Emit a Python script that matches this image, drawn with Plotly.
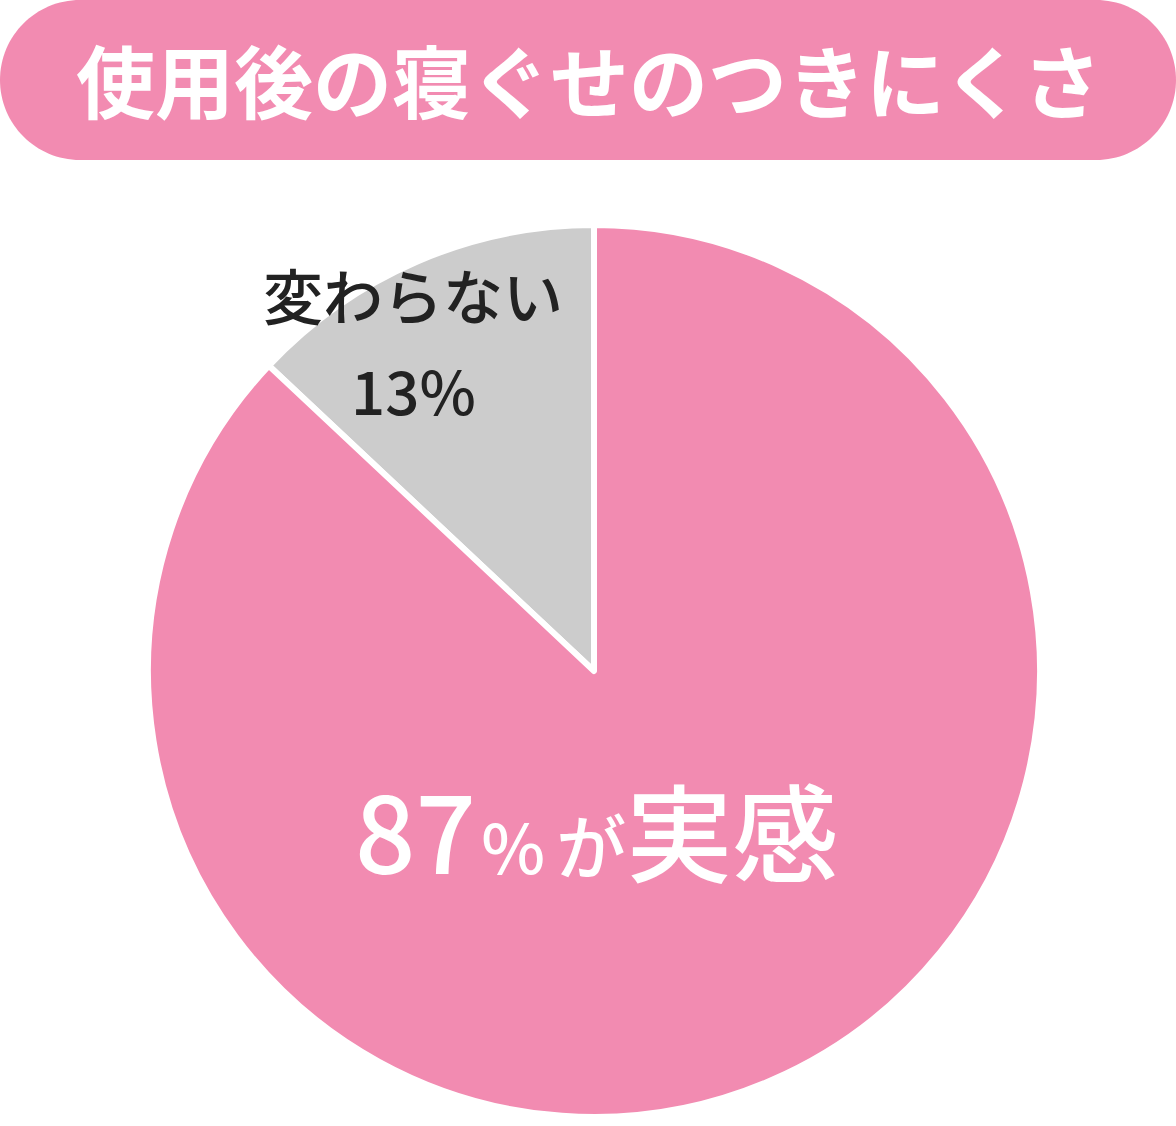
import plotly.graph_objects as go

labels = ["変わらない", "実感"]
values = [13, 87]
colors = ["#cccccc", "#f28bb1"]
title_text = "使用後の寝ぐせのつきにくさ"

W, H = 1176, 1126
PINK = "#f28bb1"

fig = go.Figure()

fig.add_trace(go.Pie(
    labels=labels, values=values, sort=False, direction="clockwise",
    rotation=-values[0] / 100 * 360, textinfo="none", hoverinfo="skip", showlegend=False,
    marker=dict(colors=colors, line=dict(color="white", width=6)),
    domain=dict(x=[148 / W, 1040 / W], y=[(H - 1117) / H, (H - 225) / H]),
))


def stadium(x0, y0, x1, y1):
    r = (y1 - y0) / 2
    k = 0.5523 * r
    return (f"M{x0 + r},{y0} L{x1 - r},{y0} "
            f"C{x1 - r + k},{y0} {x1},{y0 + r - k} {x1},{y0 + r} "
            f"C{x1},{y0 + r + k} {x1 - r + k},{y1} {x1 - r},{y1} "
            f"L{x0 + r},{y1} "
            f"C{x0 + r - k},{y1} {x0},{y0 + r + k} {x0},{y0 + r} "
            f"C{x0},{y0 + r - k} {x0 + r - k},{y0} {x0 + r},{y0} Z")


fig.add_shape(type="path", path=stadium(0, 0, 1176, 160), xref="x", yref="y",
              fillcolor=PINK, line=dict(width=0), layer="below")

jp = "Noto Sans CJK JP"
fig.add_annotation(x=588, y=78, xref="x", yref="y", text=f"<b>{title_text}</b>",
                   showarrow=False, font=dict(family=jp, size=79, color="white"))

fig.add_annotation(x=413, y=293, xref="x", yref="y", text=labels[0],
                   showarrow=False, font=dict(family=jp, size=60, color="#222222", weight=500))
fig.add_annotation(x=413, y=388, xref="x", yref="y", text=f"{values[0]}%",
                   showarrow=False, font=dict(family=jp, size=60, color="#222222", weight=500))
fig.add_annotation(x=596, y=828, xref="x", yref="y",
                   text=(f"{values[1]}<span style='font-size:24px'> </span>"
                         f"<span style='font-size:68px'>%</span>"
                         f"<span style='font-size:50px'> </span>"
                         f"<span style='font-size:70px'>が</span>{labels[1]}"),
                   showarrow=False, font=dict(family=jp, size=106, color="white", weight=500))

fig.update_layout(
    width=W, height=H, margin=dict(l=0, r=0, t=0, b=0),
    paper_bgcolor="white", plot_bgcolor="rgba(0,0,0,0)",
    xaxis=dict(range=[0, W], visible=False, fixedrange=True),
    yaxis=dict(range=[H, 0], visible=False, fixedrange=True),
)

fig.write_html("out.html", config={"displayModeBar": False},
               post_script="document.body.style.margin='0';")
